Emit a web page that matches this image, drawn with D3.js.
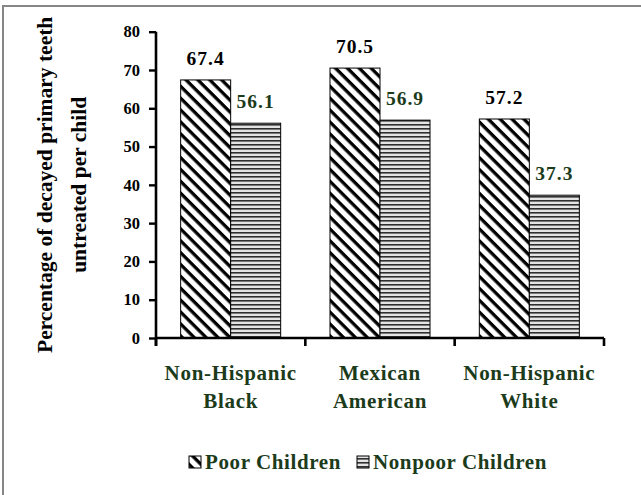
<!DOCTYPE html>
<html>
<head>
<meta charset="utf-8">
<script src="https://cdn.jsdelivr.net/npm/d3@7/dist/d3.min.js"></script>
<style>
  html, body { margin: 0; padding: 0; background: #fff; }
  svg { display: block; }
  svg text { font-family: "Liberation Serif", "DejaVu Serif", serif !important; font-weight: bold; }
</style>
</head>
<body>
<script>
// Chart data
const categories = [["Non-Hispanic", "Black"], ["Mexican", "American"], ["Non-Hispanic", "White"]];
const seriesNames = ["Poor Children", "Nonpoor Children"];
const poorValues = [67.4, 70.5, 57.2];
const nonpoorValues = [56.1, 56.9, 37.3];
const yTicks = [0, 10, 20, 30, 40, 50, 60, 70, 80];

const W = 641, H = 495;
const green = "#1b3b1b";
const FONT = '"Liberation Serif", "DejaVu Serif", serif';

const svg = d3.select("body").append("svg").attr("width", W).attr("height", H)
  .attr("font-family", FONT).attr("font-weight", "bold");

// Patterns for the two series
const defs = svg.append("defs");
const diag = defs.append("pattern")
  .attr("id", "diag").attr("patternUnits", "userSpaceOnUse")
  .attr("width", 8.4).attr("height", 8.4)
  .attr("patternTransform", "rotate(45)");
diag.append("rect").attr("width", 8.4).attr("height", 8.4).attr("fill", "#fff");
diag.append("rect").attr("width", 8.4).attr("height", 3.3).attr("fill", "#000");

const horiz = defs.append("pattern")
  .attr("id", "horiz").attr("patternUnits", "userSpaceOnUse")
  .attr("width", 8).attr("height", 4);
horiz.append("rect").attr("width", 8).attr("height", 4).attr("fill", "#e4e4e4");
horiz.append("rect").attr("y", 0).attr("width", 8).attr("height", 1.6).attr("fill", "#303030");

// Outer frame (only left and top edges fall inside the view)
svg.append("rect").attr("x", 3).attr("y", 6).attr("width", W + 10).attr("height", H + 10)
  .attr("fill", "none").attr("stroke", "#868686").attr("stroke-width", 2);

const plotL = 156, plotR = 604, plotT = 31.7, plotB = 338;

const y = d3.scaleLinear().domain([0, 80]).range([plotB, plotT]);
const x0 = d3.scaleBand().domain(d3.range(categories.length)).range([plotL, plotR]).padding(0);
const x1 = d3.scaleBand().domain(seriesNames).range([0, x0.bandwidth()]).paddingInner(0).paddingOuter(0.493);

const data = categories.map((c, i) => ({
  cat: i,
  vals: [
    { s: seriesNames[0], v: poorValues[i] },
    { s: seriesNames[1], v: nonpoorValues[i] }
  ]
}));

const groups = svg.append("g").selectAll("g").data(data).join("g")
  .attr("transform", d => `translate(${x0(d.cat)},0)`);

groups.selectAll("rect").data(d => d.vals).join("rect")
  .attr("x", d => x1(d.s))
  .attr("y", d => y(d.v))
  .attr("width", x1.bandwidth())
  .attr("height", d => y(0) - y(d.v))
  .attr("fill", d => d.s === seriesNames[0] ? "url(#diag)" : "url(#horiz)")
  .attr("stroke", "#000").attr("stroke-width", 1);

groups.selectAll("text.val").data(d => d.vals).join("text")
  .attr("class", "val")
  .attr("x", d => x1(d.s) + x1.bandwidth() / 2)
  .attr("y", d => y(d.v) - 15)
  .attr("text-anchor", "middle")
  .attr("font-size", 19.5)
  .attr("letter-spacing", 1)
  .attr("fill", d => d.s === seriesNames[0] ? "#000" : green)
  .text(d => d.v.toFixed(1));

// Y axis
const yAxis = svg.append("g").attr("transform", `translate(${plotL},0)`)
  .call(d3.axisLeft(y).tickValues(yTicks).tickSize(7).tickPadding(9).tickSizeOuter(0));
yAxis.attr("font-family", FONT);
yAxis.select(".domain").attr("stroke", "#000").attr("stroke-width", 2.6)
  .attr("d", `M0,${plotT}V${plotB + 8}`);
yAxis.selectAll(".tick line").attr("stroke", "#000").attr("stroke-width", 2.4);
yAxis.selectAll(".tick text").attr("font-size", 16.5).attr("fill", "#000");

// X axis with boundary ticks between categories
const bounds = d3.range(categories.length + 1).map(i => i < categories.length ? x0(i) : x0(i - 1) + x0.bandwidth());
const xAxis = svg.append("g");
xAxis.append("line").attr("x1", plotL).attr("x2", plotR).attr("y1", plotB).attr("y2", plotB)
  .attr("stroke", "#000").attr("stroke-width", 2.6);
xAxis.selectAll("line.tk").data(bounds).join("line").attr("class", "tk")
  .attr("x1", d => d).attr("x2", d => d).attr("y1", plotB).attr("y2", plotB + 8)
  .attr("stroke", "#000").attr("stroke-width", 2.6);

const catLabels = svg.append("g").selectAll("text").data(categories).join("text")
  .attr("text-anchor", "middle")
  .attr("font-size", 21)
  .attr("letter-spacing", 0.7)
  .attr("fill", green)
  .attr("x", (d, i) => x0(i) + x0.bandwidth() / 2)
  .attr("y", 380);
catLabels.selectAll("tspan").data(d => d).join("tspan")
  .attr("x", function () { return d3.select(this.parentNode).attr("x"); })
  .attr("dy", (d, i) => i === 0 ? 0 : 28)
  .text(d => d);

// Y axis title
const yTitle = ["Percentage of decayed primary teeth", "untreated per child"];
svg.append("g").selectAll("text").data(yTitle).join("text")
  .attr("transform", (d, i) => `translate(${i === 0 ? 52 : 86},${(plotT + plotB) / 2}) rotate(-90)`)
  .attr("text-anchor", "middle")
  .attr("font-size", 21.5)
  .attr("fill", "#000")
  .text(d => d);

// Legend
const legend = svg.append("g").attr("transform", "translate(189,462)");
const legItems = [
  { name: seriesNames[0], fill: "url(#diag)", x: 0 },
  { name: seriesNames[1], fill: "url(#horiz)", x: 168 }
];
const li = legend.selectAll("g").data(legItems).join("g").attr("transform", d => `translate(${d.x},0)`);
li.append("rect").attr("x", 0).attr("y", -6).attr("width", 12).attr("height", 12)
  .attr("fill", d => d.fill).attr("stroke", "#000").attr("stroke-width", 1);
li.append("text").attr("x", 16).attr("y", 7).attr("font-size", 21).attr("letter-spacing", 0.6)
  .attr("fill", green).text(d => d.name);
</script>
</body>
</html>
